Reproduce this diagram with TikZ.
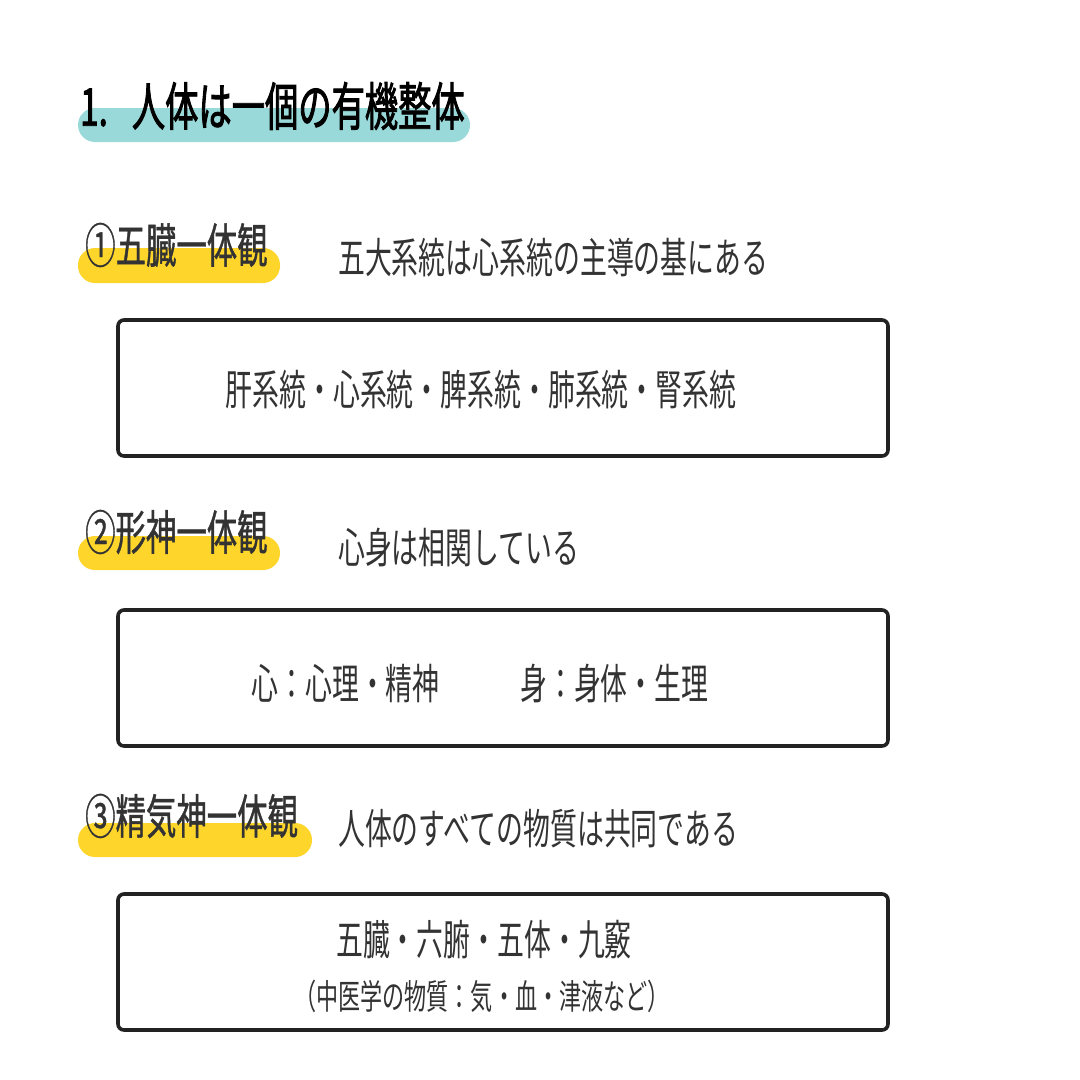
\documentclass[tikz,border=0pt]{standalone}
\usepackage{fontspec}
\newfontfamily\jp[FakeStretch=0.64]{Noto Sans CJK JP}
\newfontfamily\jph[FakeStretch=0.64,FakeBold=0.8]{Noto Sans CJK JP}
\newfontfamily\jpt[FakeStretch=0.64,FakeBold=1.6]{Noto Sans CJK JP}
\definecolor{teal1}{RGB}{154,217,217}
\definecolor{yel}{RGB}{254,213,42}
\definecolor{ink}{RGB}{51,51,51}
\definecolor{boxline}{RGB}{34,34,34}
\begin{document}
\begin{tikzpicture}[x=1pt,y=-1pt,
  titletext/.style={inner sep=0pt,anchor=west,text=black,font=\jpt\fontsize{52}{60}\selectfont},
  headtext/.style={inner sep=0pt,anchor=west,text=ink,font=\jph\fontsize{47.5}{54}\selectfont},
  subtext/.style={inner sep=0pt,anchor=west,text=ink,font=\jp\fontsize{42}{50}\selectfont},
  boxtext/.style={inner sep=0pt,text=ink,font=\jp\fontsize{42}{50}\selectfont},
  smalltext/.style={inner sep=0pt,text=ink,font=\jp\fontsize{34.5}{40}\selectfont},
  tealbar/.style={fill=teal1,rounded corners=17pt},
  yelbar/.style={fill=yel,rounded corners=17pt},
  framebox/.style={draw=boxline,line width=3.6pt,rounded corners=6pt,fill=white}]
\useasboundingbox (0,0) rectangle (1080,1080);
\fill[white] (0,0) rectangle (1080,1080);
% title
\fill[tealbar] (78,108) rectangle (470,142);
\node[titletext] (title) at (80,106) {1.\hspace{24pt}人体は一個の有機整体};
% section 1
\fill[yelbar] (78,248) rectangle (280,283);
\node[headtext] (h1) at (85,245) {①五臓一体観};
\node[subtext] (s1) at (338,258) {五大系統は心系統の主導の基にある};
\draw[framebox] (118,320) rectangle (888,456);
\node[boxtext] (b1) at (481,390) {肝系統・心系統・脾系統・肺系統・腎系統};
% section 2
\fill[yelbar] (78,536) rectangle (280,570);
\node[headtext] (h2) at (85,532) {②形神一体観};
\node[subtext] (s2) at (338,547) {心身は相関している};
\draw[framebox] (118,610) rectangle (888,746);
\node[boxtext] (b2) at (480,683) {心：心理・精神　　　身：身体・生理};
% section 3
\fill[yelbar] (78,823) rectangle (312,857);
\node[headtext] (h3) at (85,816) {③精気神一体観};
\node[subtext] (s3) at (338,829) {人体のすべての物質は共同である};
\draw[framebox] (118,894) rectangle (888,1030);
\node[boxtext] (b3a) at (484,940) {五臓・六腑・五体・九竅};
\node[smalltext] (b3b) at (482,996) {（中医学の物質：気・血・津液など）};
\end{tikzpicture}
\end{document}
